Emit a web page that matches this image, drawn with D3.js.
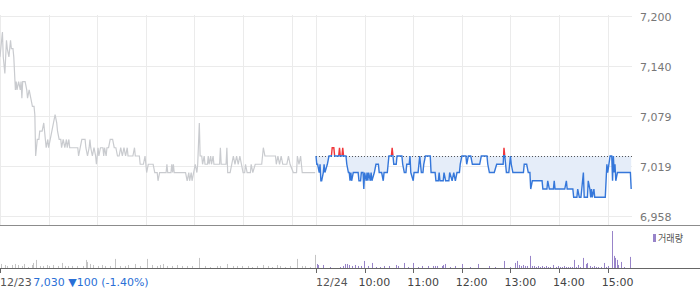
<!DOCTYPE html>
<html>
<head>
<meta charset="utf-8">
<script src="https://cdn.jsdelivr.net/npm/d3@7"></script>
<style>
    html, body { margin: 0; padding: 0; background: #fff; }
    svg { display: block; font-family: "DejaVu Sans", sans-serif; }
</style>
</head>
<body>
<div id="chart"></div>
<script>
// [minutes after 09:00, price]
const prevDayPrices = [
    [0,7150],[1,7160],[3,7180],[4,7150],[6,7130],[8,7170],[9,7160],[11,7150],[13,7170],[14,7160],[16,7160],[17,7150],
    [19,7110],[20,7120],[21,7110],[23,7120],[25,7110],[26,7120],[27,7100],[28,7120],[31,7120],[33,7110],[34,7100],
    [36,7110],[38,7100],[40,7090],[42,7090],[43,7080],[44,7030],[46,7050],[48,7050],[49,7060],[52,7060],[54,7070],
    [55,7060],[56,7050],[57,7040],[59,7050],[60,7040],[62,7050],[64,7060],[66,7070],[68,7080],[70,7070],[71,7060],
    [73,7050],[75,7050],[76,7040],[78,7050],[80,7040],[82,7050],[83,7040],[85,7050],[86,7040],[96,7040],[97,7030],
    [99,7040],[101,7050],[105,7050],[106,7040],[108,7030],[110,7040],[111,7050],[112,7040],[114,7030],[116,7040],
    [118,7030],[119,7020],[121,7040],[122,7030],[124,7040],[127,7040],[128,7030],[129,7040],[131,7030],[132,7040],
    [134,7040],[136,7050],[139,7050],[141,7040],[143,7040],[145,7030],[147,7030],[149,7040],[151,7030],[153,7040],
    [155,7030],[157,7040],[158,7030],[164,7030],[166,7040],[167,7030],[172,7030],[173,7020],[177,7020],[179,7030],
    [181,7010],[183,7020],[189,7020],[191,7010],[194,7010],[195,7000],[197,7010],[205,7010],[206,7020],[207,7010],
    [211,7010],[212,7020],[213,7010],[214,7020],[215,7010],[229,7010],[231,7000],[233,7010],[234,7000],[236,7010],
    [237,7000],[239,7010],[241,7020],[243,7010],[244,7020],[246,7070],[247,7030],[249,7030],[250,7020],[252,7030],
    [253,7020],[256,7020],[257,7030],[258,7020],[260,7030],[261,7020],[263,7030],[264,7020],[271,7020],[272,7040],
    [273,7020],[279,7020],[280,7040],[281,7010],[284,7010],[286,7020],[288,7030],[290,7020],[292,7030],[294,7020],
    [296,7030],[298,7020],[300,7010],[302,7010],[303,7020],[305,7010],[309,7010],[310,7020],[312,7010],[315,7020],
    [323,7020],[325,7040],[327,7030],[340,7030],[341,7020],[343,7030],[345,7020],[347,7030],[349,7020],[354,7020],
    [356,7030],[358,7020],[362,7010],[366,7010],[367,7030],[369,7020],[371,7030],[373,7010],[377,7010],[389,7010]
];

const todayPrices = [
    [0,7030],[1,7020],[2,7020],[4,7010],[5,7020],[6,7000],[7,7000],[9,7010],[10,7020],[11,7010],[14,7020],[16,7030],
    [19,7030],[20,7040],[22,7040],[23,7030],[28,7030],[29,7040],[30,7030],[32,7030],[33,7040],[34,7030],[37,7030],
    [38,7020],[40,7010],[41,7010],[42,7000],[43,7010],[44,7000],[46,7010],[52,7010],[53,7000],[55,7000],[56,7010],
    [58,7010],[59,6990],[60,7010],[62,7000],[63,7010],[64,7000],[65,7010],[67,7000],[68,7010],[69,7000],[72,7010],
    [74,7020],[77,7020],[78,7010],[81,7010],[83,7000],[84,7010],[88,7010],[89,7020],[90,7030],[93,7030],[94,7040],
    [95,7030],[96,7020],[99,7020],[100,7030],[106,7030],[107,7020],[109,7010],[111,7010],[112,7020],[115,7020],
    [116,7030],[117,7010],[120,7000],[121,7010],[126,7010],[127,7020],[128,7030],[130,7010],[132,7010],[133,7020],
    [135,7030],[141,7030],[142,7010],[147,7010],[148,7000],[151,7000],[152,7010],[153,7000],[157,7000],[158,7010],
    [160,7000],[164,7000],[165,7010],[168,7000],[170,7010],[172,7000],[174,7010],[177,7010],[178,7020],[180,7030],
    [185,7030],[186,7020],[188,7030],[191,7030],[193,7020],[202,7020],[204,7030],[211,7030],[212,7020],[214,7010],
    [220,7010],[223,7020],[231,7020],[232,7040],[233,7030],[235,7010],[238,7010],[240,7030],[241,7020],[243,7010],
    [256,7010],[257,7020],[260,7020],[262,7010],[264,7010],[265,6990],[267,7000],[279,7000],[280,6990],[285,6990],
    [286,7000],[288,6990],[293,6990],[294,7000],[295,6990],[307,6990],[309,7000],[310,6990],[317,6990],[318,6980],
    [322,6980],[323,6990],[325,6980],[327,6980],[328,6990],[330,7010],[331,6980],[335,6980],[336,7000],[338,6990],
    [339,6980],[340,6990],[341,6980],[343,6990],[344,6980],[357,6980],[358,7000],[359,7020],[360,7010],[363,7030],
    [365,7030],[366,7000],[367,7030],[368,7010],[369,7020],[370,7000],[372,7010],[375,7010],[388,7010],[389,6990]
];

// [minutes after 09:00, volume (thousand shares)]
const prevDayVolume = [
    [1,12],[6,9],[9,6],[15,9],[19,12],[22,9],[27,6],[30,12],[35,3],[40,9],[41,15],[44,24],[49,6],[53,6],[58,9],
    [60,6],[65,9],[72,6],[77,15],[80,6],[84,6],[89,6],[95,6],[102,6],[106,24],[107,18],[111,12],[115,9],[121,6],
    [126,9],[130,6],[136,6],[142,27],[148,6],[154,6],[158,9],[167,12],[173,6],[181,27],[188,9],[194,6],[198,9],
    [201,12],[206,6],[212,6],[219,9],[225,6],[231,6],[237,6],[246,30],[253,6],[259,3],[268,6],[272,6],[280,12],
    [288,6],[293,6],[299,6],[306,6],[311,3],[317,6],[325,9],[331,6],[336,3],[342,9],[346,6],[352,3],[358,6],
    [367,27],[373,6],[377,6],[383,3],[389,39]
];

const todayVolume = [
    [1,12],[2,9],[9,9],[17,3],[30,3],[33,6],[36,12],[38,12],[41,9],[44,6],[48,9],[52,6],[56,6],[59,21],[64,6],
    [69,15],[74,3],[79,3],[84,6],[90,6],[99,9],[101,6],[109,15],[114,3],[120,15],[126,3],[131,6],[138,6],[144,6],
    [147,6],[149,6],[156,6],[157,9],[159,12],[165,3],[172,6],[180,12],[190,3],[200,12],[214,6],[221,3],[232,21],
    [240,3],[246,15],[248,21],[251,9],[253,6],[256,9],[258,6],[260,6],[264,36],[267,6],[269,6],[272,3],[274,6],
    [277,3],[279,6],[281,3],[284,6],[286,3],[289,3],[293,9],[296,3],[299,6],[301,3],[304,3],[306,6],[309,3],
    [311,3],[314,3],[316,3],[319,24],[321,3],[323,9],[326,3],[330,30],[333,12],[335,15],[338,6],[341,3],[343,6],
    [346,3],[348,3],[352,3],[356,15],[358,3],[360,6],[365,110],[368,36],[369,30],[372,24],[373,9],[377,18],
    [380,3],[388,33]
];

const priceTicks = [6958, 7018.5, 7079, 7139.5, 7200];
const prevClose = 7030;
const dayLabels = ["12/23", "12/24"];
const hourLabels = ["10:00", "11:00", "12:00", "13:00", "14:00", "15:00"];
const closeText = "7,030 \u25BC100 (-1.40%)";
const volumeLabel = "거래량";

class IntradayChart {
    constructor(parentElement) {
        this.parentElement = parentElement;
        this.initVis();
    }

    initVis() {
        let vis = this;

        vis.width = 700;
        vis.height = 289;
        vis.session = 390;      // 09:00 - 15:30
        vis.plotRight = 632;

        vis.svg = d3.select("#" + vis.parentElement).append("svg")
            .attr("width", vis.width)
            .attr("height", vis.height);

        vis.x = d3.scaleLinear()
            .domain([0, vis.session * 2])
            .range([0, vis.plotRight]);

        vis.y = d3.scaleLinear()
            .domain([6958, 7200])
            .range([215.5, 15.5]);

        vis.yVol = d3.scaleLinear()
            .domain([0, 110])
            .range([268, 231]);

        vis.line = d3.line()
            .x(d => vis.x(d[0] + d.offset))
            .y(d => vis.y(d[1]));

        this.wrangleData();
    }

    wrangleData() {
        let vis = this;

        vis.day1 = prevDayPrices.map(d => Object.assign([d[0], d[1]], {offset: 0}));
        vis.day2 = todayPrices.map(d => Object.assign([d[0], d[1]], {offset: vis.session}));

        vis.vol = prevDayVolume.map(d => ({m: d[0], v: d[1], day: 0}))
            .concat(todayVolume.map(d => ({m: d[0] + vis.session, v: d[1], day: 1})));

        vis.gridMinutes = [0, 60, 120, 180, 240, 300, 360, 390, 450, 510, 570, 630, 690, 750];

        this.updateVis();
    }

    updateVis() {
        let vis = this;
        let baseY = vis.y(prevClose);

        // grid
        vis.svg.append("g")
            .selectAll("line")
            .data(priceTicks)
            .enter()
            .append("line")
            .attr("x1", 0)
            .attr("x2", vis.plotRight)
            .attr("y1", d => Math.round(vis.y(d)) + 0.5)
            .attr("y2", d => Math.round(vis.y(d)) + 0.5)
            .style("stroke", "#ebebeb");

        vis.svg.append("g")
            .selectAll("line")
            .data(vis.gridMinutes)
            .enter()
            .append("line")
            .attr("x1", d => Math.round(vis.x(d)) + 0.5)
            .attr("x2", d => Math.round(vis.x(d)) + 0.5)
            .attr("y1", 15)
            .attr("y2", 225)
            .style("stroke", "#ebebeb");

        // price labels on the right
        vis.svg.append("g")
            .selectAll("text")
            .data(priceTicks)
            .enter()
            .append("text")
            .attr("x", 640)
            .attr("y", d => vis.y(d) + 5)
            .style("font-size", "11px")
            .style("fill", "#777")
            .text(d => d3.format(",.0f")(d));

        // clip regions above / below the previous close
        let defs = vis.svg.append("defs");
        defs.append("clipPath").attr("id", "clip-up")
            .append("rect")
            .attr("x", 0).attr("y", 0)
            .attr("width", vis.plotRight).attr("height", baseY - 1);
        defs.append("clipPath").attr("id", "clip-down")
            .append("rect")
            .attr("x", 0).attr("y", baseY - 1)
            .attr("width", vis.plotRight).attr("height", 225 - baseY);
        defs.append("clipPath").attr("id", "clip-fill")
            .append("rect")
            .attr("x", 0).attr("y", baseY)
            .attr("width", vis.plotRight).attr("height", 225 - baseY);

        // fill between today's line and previous close
        let area = d3.area()
            .x(d => vis.x(d[0] + d.offset))
            .y0(baseY)
            .y1(d => vis.y(d[1]));

        vis.svg.append("path")
            .attr("clip-path", "url(#clip-fill)")
            .attr("d", area(vis.day2))
            .style("fill", "#e5edf9");

        // previous close dotted line
        vis.svg.append("line")
            .attr("x1", vis.x(vis.session))
            .attr("x2", vis.plotRight)
            .attr("y1", Math.round(baseY) + 0.5)
            .attr("y2", Math.round(baseY) + 0.5)
            .style("stroke", "#555")
            .style("stroke-dasharray", "1,2");

        // previous day line
        vis.svg.append("path")
            .attr("d", vis.line(vis.day1))
            .attr("fill", "none")
            .style("stroke", "#c9cbcf")
            .style("stroke-width", 1.2);

        // today line (blue below / red above)
        vis.svg.append("path")
            .attr("clip-path", "url(#clip-down)")
            .attr("d", vis.line(vis.day2))
            .attr("fill", "none")
            .style("stroke", "#3577da")
            .style("stroke-width", 1.4);

        vis.svg.append("path")
            .attr("clip-path", "url(#clip-up)")
            .attr("d", vis.line(vis.day2))
            .attr("fill", "none")
            .style("stroke", "#f0363a")
            .style("stroke-width", 1.4);

        // separator between price and volume
        vis.svg.append("line")
            .attr("x1", 0).attr("x2", vis.width)
            .attr("y1", 225.5).attr("y2", 225.5)
            .style("stroke", "#8c8c8c");

        // volume bars
        vis.svg.append("g")
            .selectAll("rect")
            .data(vis.vol)
            .enter()
            .append("rect")
            .attr("x", d => Math.round(vis.x(d.m)))
            .attr("y", d => vis.yVol(d.v))
            .attr("width", 1)
            .attr("height", d => vis.yVol(0) - vis.yVol(d.v))
            .style("fill", d => d.day === 0 ? "#c4c4c4" : "#9884c9");

        // volume baseline and ticks
        vis.svg.append("line")
            .attr("x1", 0).attr("x2", vis.width)
            .attr("y1", 268.5).attr("y2", 268.5)
            .style("stroke", "#666");

        let tickMinutes = [0, 390, 450, 510, 570, 630, 690, 750];
        vis.svg.append("g")
            .selectAll("line")
            .data(tickMinutes)
            .enter()
            .append("line")
            .attr("x1", d => Math.round(vis.x(d)) + 0.5)
            .attr("x2", d => Math.round(vis.x(d)) + 0.5)
            .attr("y1", 268)
            .attr("y2", 273)
            .style("stroke", "#666");

        // bottom labels
        let first = vis.svg.append("text")
            .attr("x", 0)
            .attr("y", 286)
            .style("font-size", "11px")
            .style("fill", "#555")
            .text(dayLabels[0]);
        first.append("tspan")
            .attr("dx", 1.5)
            .style("fill", "#2a6fd6")
            .text(closeText);

        vis.svg.append("text")
            .attr("x", vis.x(vis.session))
            .attr("y", 286)
            .style("font-size", "11px")
            .style("fill", "#555")
            .text(dayLabels[1]);

        vis.svg.append("g")
            .selectAll("text")
            .data(hourLabels)
            .enter()
            .append("text")
            .attr("x", (d, i) => vis.x(vis.session + 60 * (i + 1)) - 6)
            .attr("y", 286)
            .style("font-size", "11px")
            .style("fill", "#444")
            .text(d => d);

        // legend
        vis.svg.append("rect")
            .attr("x", 653)
            .attr("y", 234)
            .attr("width", 3)
            .attr("height", 8)
            .style("fill", "#9884c9");

        vis.svg.append("text")
            .attr("x", 658)
            .attr("y", 242)
            .attr("textLength", 25)
            .attr("lengthAdjust", "spacingAndGlyphs")
            .style("font-family", "'Noto Sans CJK KR', sans-serif")
            .style("font-size", "10px")
            .style("fill", "#555")
            .text(volumeLabel);
    }
}

new IntradayChart("chart");
</script>
</body>
</html>
